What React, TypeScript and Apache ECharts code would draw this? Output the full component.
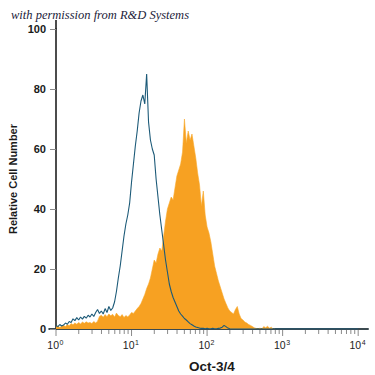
import React, { useEffect, useRef } from "react";
import * as echarts from "echarts";

// Histogram bins along log10(intensity)
const BIN_START = 0;
const BIN_STEP = 0.025;

// Isotype control (blue outline)
const controlCounts = [
  1.2, 0.8, 1.5, 1.0, 1.3, 2.0, 1.6, 2.5, 2.2, 3.4,
  2.8, 3.8, 3.0, 4.0, 3.3, 4.2, 3.6, 4.6, 4.0, 5.0,
  4.2, 5.5, 6.5, 5.2, 6.0, 5.0, 6.8, 5.5, 7.5, 6.2,
  7.0, 9.0, 12.5, 17, 21, 26, 31, 35, 38, 42,
  49, 55, 61, 66, 72, 76, 78, 75, 85, 69,
  63, 60, 58, 50, 44, 38, 33, 28, 23, 19,
  15, 12.5, 10.5, 9, 7.5, 6, 5, 4.3, 3.5, 3,
  2.4, 1.8, 1.4, 1, 0.7, 0.5, 0.3, 0.2, 0.2, 0.1,
  0.2, 0.1, 0.1, 0.2, 0.1, 0.1, 0.2, 0.3, 0.6, 1.2,
  0.8, 0.3, 0.1, 0, 0,
];

// Oct-3/4 stained (orange fill)
const stainedCounts = [
  0.6, 1.0, 0.5, 0.9, 1.2, 0.8, 1.5, 1.1, 1.8, 1.4,
  2.0, 1.6, 2.2, 1.7, 2.3, 1.9, 2.4, 2.0, 2.2, 1.8,
  2.5, 2.0, 2.6, 4.2, 4.6, 3.9, 4.8, 4.1, 5.0, 4.4,
  4.9, 4.0, 5.3, 4.5, 4.1, 4.8, 3.8, 4.5, 4.0, 4.7,
  5.5, 5.2, 6.0, 6.8, 7.5, 8.5, 10, 11.5, 13.5, 15,
  17, 20, 23, 22, 25, 27, 26, 31, 36, 40,
  42, 44, 43, 47, 51, 53, 55, 59, 70, 62,
  66, 63, 65, 61, 57, 52, 48, 41, 46, 38,
  34, 32, 29, 25, 21, 18.5, 16, 14, 12, 10,
  8.5, 7, 6, 5.5, 5, 6.5, 7.5, 5, 3.5, 3,
  2.3, 2, 1.5, 1.2, 0.8, 0.4, 0.2, 0, 0.3, 0,
  0.8, 0.4, 0.9, 0.3, 0.6, 0, 0,
];

const decades = [0, 1, 2, 3, 4];
const minorMultipliers = [2, 3, 4, 5, 6, 7, 8, 9];
const yTicks = [0, 20, 40, 60, 80, 100];

const X_MIN = 0;
const X_MAX = 4.13;
const X_LINE_LEFT = -0.1;
const Y_LINE_TOP = 103;

const BLUE = "#1c5a78";
const ORANGE = "#f7a122";
const SANS = '"Liberation Sans", Arial, sans-serif';
const WATERMARK_FONT = 'italic 12.5px "Liberation Serif", "DejaVu Serif", serif';

export default function App() {
  const ref = useRef<HTMLDivElement>(null);

  useEffect(() => {
    if (!ref.current) return;
    const chart = echarts.init(ref.current, null, { renderer: "svg" });

    const toPairs = (arr: number[]) => arr.map((v, i) => [BIN_START + i * BIN_STEP, v]);
    const controlData = toPairs(controlCounts);
    controlData.push([4, 0]);
    const stainedData = toPairs(stainedCounts);

    const tickData: number[][] = [];
    decades.forEach((d) => {
      tickData.push([d, 1]);
      if (d < 4) minorMultipliers.forEach((k) => tickData.push([d + Math.log10(k), 0]));
    });

    const watermark = {
      type: "text",
      left: 11,
      top: 8,
      style: { text: "with permission from R&D Systems", fill: "#1c1c3a", font: WATERMARK_FONT },
    };

    chart.setOption({
      animation: false,
      backgroundColor: "#ffffff",
      grid: { left: 56, right: 7, top: 29, bottom: 46, containLabel: false, outerBoundsMode: "none" },
      xAxis: {
        type: "value",
        min: X_MIN,
        max: X_MAX,
        name: "Oct-3/4",
        nameLocation: "middle",
        nameGap: 30,
        nameMoveOverlap: false,
        nameTextStyle: { fontFamily: SANS, fontWeight: "bold", fontSize: 13.5, color: "#1a1a1a" },
        axisLine: { show: true, onZero: false, lineStyle: { color: "#3c4a50", width: 2 } },
        axisTick: { show: false },
        axisLabel: { show: false },
        splitLine: { show: false },
      },
      yAxis: {
        type: "value",
        min: 0,
        max: 100,
        interval: 20,
        name: "Relative Cell Number",
        nameLocation: "middle",
        nameGap: 38,
        nameMoveOverlap: false,
        nameTextStyle: { fontFamily: SANS, fontWeight: "bold", fontSize: 11, color: "#1a1a1a" },
        axisLine: { show: true, onZero: false, lineStyle: { color: "#111111", width: 1.5 } },
        axisTick: { show: true, length: 6, lineStyle: { color: "#8a8a8a", width: 1 } },
        axisLabel: { fontFamily: SANS, fontWeight: "bold", fontSize: 11, color: "#1a1a1a", margin: 10 },
        splitLine: { show: false },
      },
      graphic: [watermark],
      series: [
        {
          name: "Oct-3/4",
          type: "line",
          data: stainedData,
          showSymbol: false,
          symbol: "none",
          lineStyle: { color: "#f8a92c", width: 0.6 },
          areaStyle: { color: ORANGE, opacity: 1 },
          z: 2,
        },
        {
          name: "Isotype",
          type: "line",
          data: controlData,
          showSymbol: false,
          symbol: "none",
          lineStyle: { color: BLUE, width: 1.1 },
          z: 3,
        },
        {
          name: "xticks",
          type: "custom",
          coordinateSystem: "cartesian2d",
          clip: false,
          silent: true,
          data: tickData,
          encode: { x: 0, y: 1 },
          renderItem: (params: any, api: any) => {
            const p = api.coord([api.value(0), 0]);
            const len = api.value(1) ? 7 : 5;
            return {
              type: "line",
              shape: { x1: p[0], y1: p[1] + 1, x2: p[0], y2: p[1] + len },
              style: { stroke: "#8a8a8a", lineWidth: 1 },
            };
          },
          z: 1,
        },
        {
          name: "xlabels",
          type: "custom",
          coordinateSystem: "cartesian2d",
          clip: false,
          silent: true,
          data: decades.map((d) => [d, 0]),
          encode: { x: 0, y: 1 },
          renderItem: (params: any, api: any) => {
            const d = api.value(0);
            const p = api.coord([d, 0]);
            return {
              type: "group",
              children: [
                {
                  type: "text",
                  x: p[0] + 3,
                  y: p[1] + 16,
                  style: {
                    text: "10",
                    fill: "#222222",
                    fontFamily: SANS,
                    fontSize: 10.5,
                    align: "right",
                    verticalAlign: "middle",
                  },
                },
                {
                  type: "text",
                  x: p[0] + 3.5,
                  y: p[1] + 13,
                  style: {
                    text: String(d),
                    fill: "#222222",
                    fontFamily: SANS,
                    fontSize: 7,
                    align: "left",
                    verticalAlign: "middle",
                  },
                },
              ],
            };
          },
          z: 1,
        },
      ],
    });

    // extend the axis lines past the plot corner, as in the reference
    const conv = (pt: number[]) => chart.convertToPixel({ gridIndex: 0 }, pt) as number[];
    const yTop0 = conv([X_MIN, yTicks[yTicks.length - 1]]);
    const yTop1 = conv([X_MIN, Y_LINE_TOP]);
    const xLeft0 = conv([X_LINE_LEFT, 0]);
    const xLeft1 = conv([X_MIN, 0]);
    chart.setOption({
      graphic: [
        watermark,
        {
          type: "line",
          shape: { x1: yTop0[0], y1: yTop0[1], x2: yTop1[0], y2: yTop1[1] },
          style: { stroke: "#111111", lineWidth: 1.5 },
          silent: true,
        },
        {
          type: "line",
          shape: { x1: xLeft0[0], y1: xLeft0[1], x2: xLeft1[0], y2: xLeft1[1] },
          style: { stroke: "#3c4a50", lineWidth: 2 },
          silent: true,
        },
      ],
    });

    return () => chart.dispose();
  }, []);

  return <div ref={ref} style={{ width: 375, height: 375, position: "absolute", left: 0, top: 0 }} />;
}
